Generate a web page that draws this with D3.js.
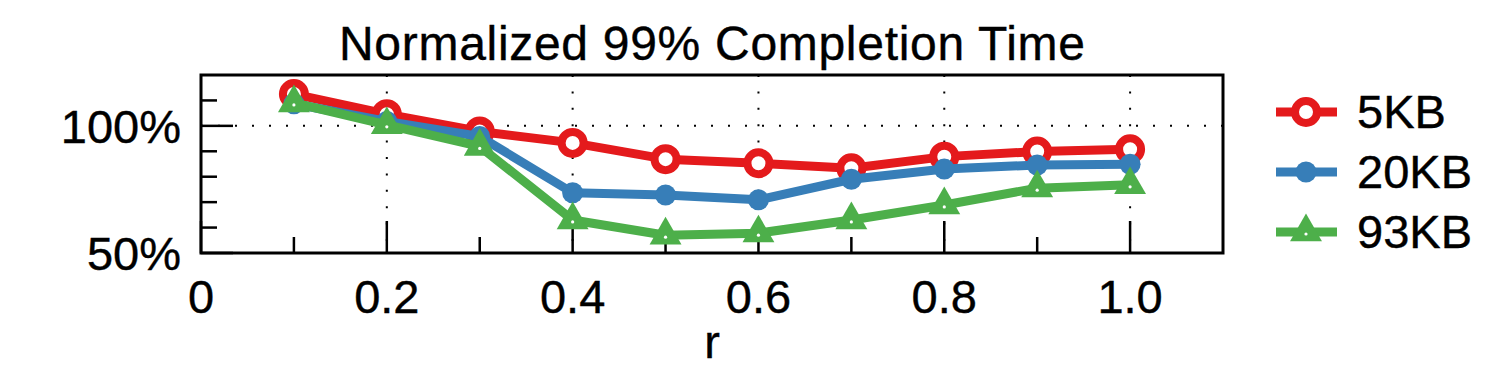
<!DOCTYPE html>
<html>
<head>
<meta charset="utf-8">
<script src="https://cdn.jsdelivr.net/npm/d3@7"></script>
<style>
  body { margin: 0; background: #fff; }
  text { font-family: "Liberation Sans", Arial, Helvetica, sans-serif; fill: #000; stroke: #000; stroke-width: 0.4; }
</style>
</head>
<body>
<svg id="canvas"></svg>
<script>
var width = 1500,
	height = 390;

// data
var rValues = [0.1, 0.2, 0.3, 0.4, 0.5, 0.6, 0.7, 0.8, 0.9, 1.0];
var kb5  = [112.5, 104.6, 97.8, 93.3, 86.9, 85.3, 83.3, 87.9, 89.9, 90.8];
var kb20 = [108.7, 101.7, 95.8, 73.7, 72.8, 70.9, 79.0, 83.0, 84.6, 84.9];
var kb93 = [109.0, 100.4, 91.9, 63.0, 57.0, 57.8, 63.0, 68.9, 75.5, 76.8];
var seriesNames = ["5KB", "20KB", "93KB"];
var xMajor = [0, 0.2, 0.4, 0.6, 0.8, 1.0];
var xMajorLabels = ["0", "0.2", "0.4", "0.6", "0.8", "1.0"];
var xMinor = [0.1, 0.3, 0.5, 0.7, 0.9];
var yMajor = [50, 100];
var yMajorLabels = ["50%", "100%"];
var yMinor = [60, 70, 80, 90, 110];

var colors = ["#e41a1c", "#377eb8", "#4daf4a"];
var shapes = ["ring", "dot", "tri"];

// plot box (note: "top" is taken by window.top)
var pLeft = 201, pRight = 1223, pTop = 75, pBottom = 253;

var svg = d3.select("#canvas")
	.attr("width", width)
	.attr("height", height);

var x = d3.scaleLinear().domain([0, 1.1]).range([pLeft, pRight]);
var y = d3.scaleLinear().domain([50, 120]).range([pBottom, pTop]);

// dotted grid
svg.selectAll(".vgrid")
	.data(xMajor.slice(1))
	.enter().append("line")
	.attr("x1", function(d){ return x(d); })
	.attr("x2", function(d){ return x(d); })
	.attr("y1", pTop)
	.attr("y2", pBottom)
	.attr("stroke", "#000")
	.attr("stroke-width", 2)
	.attr("stroke-dasharray", "2,14.4");

svg.append("line")
	.attr("x1", pLeft)
	.attr("x2", pRight)
	.attr("y1", y(100))
	.attr("y2", y(100))
	.attr("stroke", "#000")
	.attr("stroke-width", 2)
	.attr("stroke-dasharray", "2,15");

// ticks, pointing inward
svg.selectAll(".xmaj")
	.data(xMajor)
	.enter().append("line")
	.attr("x1", function(d){ return x(d); })
	.attr("x2", function(d){ return x(d); })
	.attr("y1", pBottom)
	.attr("y2", pBottom - 32)
	.attr("stroke", "#000")
	.attr("stroke-width", 2.5);

svg.selectAll(".xmin")
	.data(xMinor)
	.enter().append("line")
	.attr("x1", function(d){ return x(d); })
	.attr("x2", function(d){ return x(d); })
	.attr("y1", pBottom)
	.attr("y2", pBottom - 16)
	.attr("stroke", "#000")
	.attr("stroke-width", 2.5);

svg.selectAll(".ymaj")
	.data(yMajor)
	.enter().append("line")
	.attr("x1", pLeft)
	.attr("x2", pLeft + 32)
	.attr("y1", function(d){ return y(d); })
	.attr("y2", function(d){ return y(d); })
	.attr("stroke", "#000")
	.attr("stroke-width", 2.5);

svg.selectAll(".ymin")
	.data(yMinor)
	.enter().append("line")
	.attr("x1", pLeft)
	.attr("x2", pLeft + 16)
	.attr("y1", function(d){ return y(d); })
	.attr("y2", function(d){ return y(d); })
	.attr("stroke", "#000")
	.attr("stroke-width", 2.5);

// frame
svg.append("rect")
	.attr("x", pLeft)
	.attr("y", pTop)
	.attr("width", pRight - pLeft)
	.attr("height", pBottom - pTop)
	.attr("fill", "none")
	.attr("stroke", "#000")
	.attr("stroke-width", 3);

// tick labels
svg.selectAll(".xlab")
	.data(xMajor)
	.enter().append("text")
	.attr("x", function(d){ return x(d); })
	.attr("y", 313)
	.attr("text-anchor", "middle")
	.attr("font-size", 47)
	.text(function(d, i){ return xMajorLabels[i]; });

svg.selectAll(".ylab")
	.data(yMajor)
	.enter().append("text")
	.attr("x", 181)
	.attr("y", function(d){ return y(d) + 17; })
	.attr("text-anchor", "end")
	.attr("font-size", 47)
	.text(function(d, i){ return yMajorLabels[i]; });

svg.append("text")
	.attr("x", (pLeft + pRight) / 2)
	.attr("y", 358)
	.attr("text-anchor", "middle")
	.attr("font-size", 47)
	.text("r");

svg.append("text")
	.attr("x", (pLeft + pRight) / 2)
	.attr("y", 60)
	.attr("text-anchor", "middle")
	.attr("font-size", 48)
	.attr("textLength", 746)
	.text("Normalized 99% Completion Time");

// markers
function drawMarker(g, shape, color, cx, cy) {
	if (shape === "ring") {
		g.append("circle")
			.attr("cx", cx).attr("cy", cy).attr("r", 11)
			.attr("fill", "#fff")
			.attr("stroke", color)
			.attr("stroke-width", 8);
	} else if (shape === "dot") {
		g.append("circle")
			.attr("cx", cx).attr("cy", cy).attr("r", 10.5)
			.attr("fill", color);
	} else {
		var tri = d3.symbol().type(d3.symbolTriangle).size(440);
		g.append("path")
			.attr("d", tri())
			.attr("transform", "translate(" + cx + "," + cy + ")")
			.attr("fill", color);
		g.append("circle")
			.attr("cx", cx).attr("cy", cy + 2).attr("r", 1.6)
			.attr("fill", "#fff");
	}
}

var allSeries = [kb5, kb20, kb93];

var line = d3.line()
	.x(function(d){ return x(d[0]); })
	.y(function(d){ return y(d[1]); });

allSeries.forEach(function(vals, s) {
	var pts = rValues.map(function(r, i){ return [r, vals[i]]; });
	var g = svg.append("g");
	g.append("path")
		.datum(pts)
		.attr("d", line)
		.attr("fill", "none")
		.attr("stroke", colors[s])
		.attr("stroke-width", 9)
		.attr("stroke-linejoin", "round");
	pts.forEach(function(p){
		drawMarker(g, shapes[s], colors[s], x(p[0]), y(p[1]));
	});
});

// legend
seriesNames.forEach(function(name, s) {
	var ly = 112 + s * 60;
	var g = svg.append("g");
	g.append("line")
		.attr("x1", 1276).attr("x2", 1337)
		.attr("y1", ly).attr("y2", ly)
		.attr("stroke", colors[s])
		.attr("stroke-width", 9);
	drawMarker(g, shapes[s], colors[s], 1306, ly);
	g.append("text")
		.attr("x", 1357)
		.attr("y", ly + 16)
		.attr("font-size", 47)
		.text(name);
});
</script>
</body>
</html>
